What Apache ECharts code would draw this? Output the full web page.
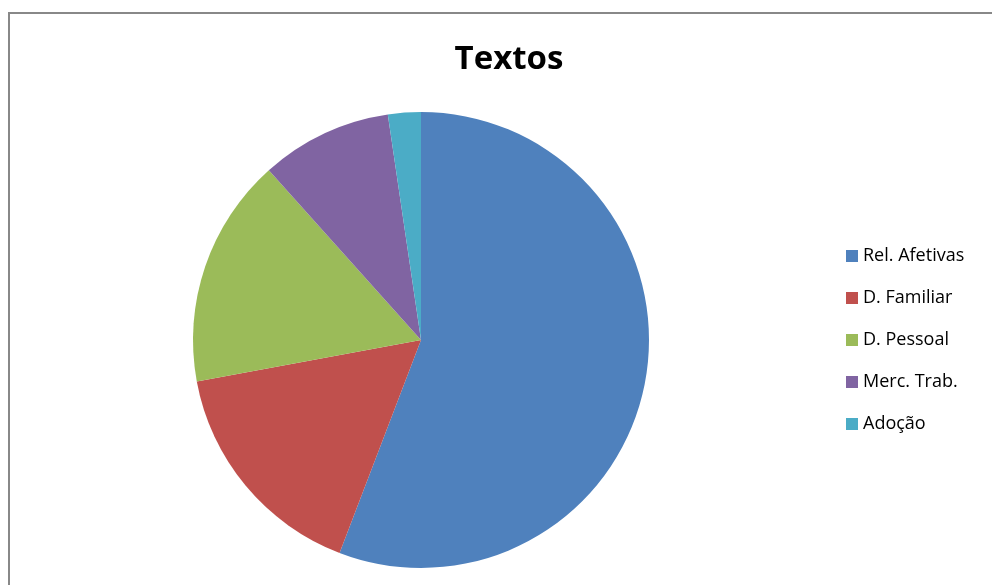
<!DOCTYPE html>
<html>
<head>
<meta charset="utf-8">
<script src="https://cdn.jsdelivr.net/npm/echarts@6/dist/echarts.min.js"></script>
<style>
  html, body { margin: 0; padding: 0; background: #fff; }
  #chart { width: 992px; height: 585px; }
</style>
</head>
<body>
<div id="chart"></div>
<script>
// dados do gráfico
var categorias = ['Rel. Afetivas', 'D. Familiar', 'D. Pessoal', 'Merc. Trab.', 'Adoção'];
var valores = [24, 7, 7, 4, 1];
var cores = ['#4F81BD', '#C0504D', '#9BBB59', '#8064A2', '#4BACC6'];

var chart = echarts.init(document.getElementById('chart'));

var dados = categorias.map(function (nome, i) {
    return { name: nome, value: valores[i], itemStyle: { color: cores[i] } };
});

chart.setOption({
    animation: false,
    backgroundColor: '#fff',
    title: {
        text: 'Textos',
        left: 504,
        top: 38,
        textAlign: 'center',
        textStyle: { fontFamily: 'Open Sans', fontWeight: 'bold', fontSize: 33, color: '#000' }
    },
    graphic: [{
        type: 'rect',
        shape: { x: 9, y: 13, width: 1100, height: 700 },
        style: { fill: 'none', stroke: '#888', lineWidth: 2 },
        silent: true
    }],
    legend: {
        orient: 'vertical',
        left: 841,
        top: 242,
        padding: 5,
        itemWidth: 12,
        itemHeight: 12,
        itemGap: 24,
        icon: 'rect',
        data: categorias,
        textStyle: { fontFamily: 'Open Sans', fontSize: 18, color: '#000', padding: [0, 0, 0, 0] }
    },
    series: [{
        type: 'pie',
        center: [421, 340],
        radius: 228,
        startAngle: 90,
        clockwise: true,
        label: { show: false },
        labelLine: { show: false },
        itemStyle: { borderWidth: 0 },
        emphasis: { disabled: true },
        data: dados
    }]
});
</script>
</body>
</html>
